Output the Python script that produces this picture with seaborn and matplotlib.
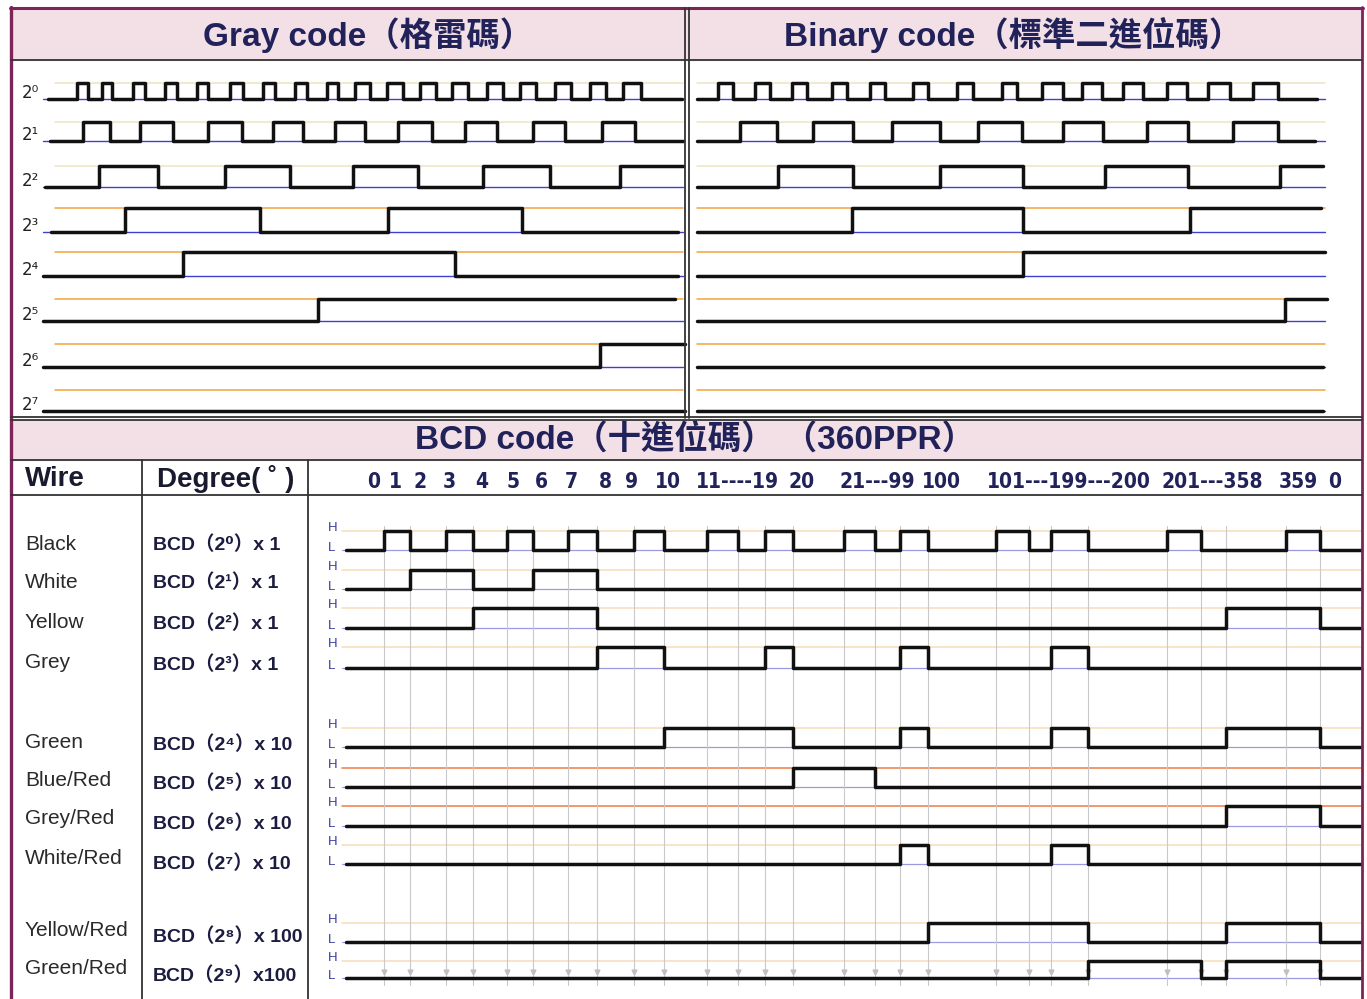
import matplotlib.pyplot as plt
from matplotlib import font_manager
from matplotlib.font_manager import FontProperties
from matplotlib.patches import Rectangle
import pandas as pd
import seaborn as sns

sns.set_theme(style="white")
plt.rcParams["font.family"] = ["Liberation Sans", "Noto Sans CJK TC", "DejaVu Sans"]

# ---------------- data ----------------
# top panels: bit names, x positions of the edges (rise, fall, rise, ...)
bit_names = ["2⁰", "2¹", "2²", "2³", "2⁴", "2⁵", "2⁶", "2⁷"]

gray_start = [48, 50, 45, 51, 43, 43, 43, 43]
gray_end = [682, 683, 683, 678, 678, 675, 685, 685]
gray_edges = [
    [77, 88, 102, 112, 133, 145, 165, 177, 197, 208, 230, 243, 263, 275, 295, 307,
     327, 338, 355, 370, 387, 403, 420, 436, 452, 468, 487, 503, 520, 536, 555, 571,
     590, 606, 623, 641],
    [83, 110, 140, 173, 208, 242, 273, 303, 335, 365, 398, 432, 465, 497, 533, 565,
     602, 635],
    [99, 158, 225, 290, 353, 418, 483, 550, 620],
    [125, 260, 388, 522],
    [183, 455],
    [318],
    [600],
    [],
]

binary_start = [697, 697, 697, 697, 697, 697, 697, 697]
binary_end = [1317, 1315, 1323, 1321, 1325, 1327, 1323, 1323]
binary_edges = [
    [718, 733, 755, 770, 792, 807, 832, 847, 870, 885, 913, 928, 957, 973, 1002, 1017,
     1042, 1063, 1082, 1102, 1123, 1143, 1167, 1187, 1208, 1230, 1253, 1278],
    [740, 777, 813, 853, 892, 940, 978, 1022, 1063, 1103, 1147, 1188, 1233, 1278],
    [778, 853, 940, 1023, 1105, 1188, 1280],
    [852, 1023, 1190],
    [1023],
    [1285],
    [],
    [],
]

# BCD panel: step boundaries and the level of every wire in each step
bcd_bounds = [346, 384, 410, 446, 473, 507, 533, 568, 597, 634, 664, 707, 738, 765,
              793, 844, 875, 900, 928, 996, 1029, 1051, 1088, 1167, 1201, 1226, 1286,
              1320, 1361]
bcd_ticks = ["0", "1", "2", "3", "4", "5", "6", "7", "8", "9", "10", "11----19", "20",
             "21---99", "100", "101---199---200", "201---358", "359", "0"]
bcd_tick_x = [374, 395, 420, 449, 482, 513, 541, 571, 605, 632, 668, 738, 802, 877,
              941, 1069, 1212, 1298, 1335]

wires = ["Black", "White", "Yellow", "Grey", "Green", "Blue/Red", "Grey/Red",
         "White/Red", "Yellow/Red", "Green/Red"]
degrees = ["BCD（2⁰）x 1", "BCD（2¹）x 1", "BCD（2²）x 1", "BCD（2³）x 1",
           "BCD（2⁴）x 10", "BCD（2⁵）x 10", "BCD（2⁶）x 10", "BCD（2⁷）x 10",
           "BCD（2⁸）x 100", "BCD（2⁹）x100"]
bcd_states = [
    [0, 1, 0, 1, 0, 1, 0, 1, 0, 1, 0, 1, 0, 1, 0, 1, 0, 1, 0, 1, 0, 1, 0, 1, 0, 0, 1, 0],
    [0, 0, 1, 1, 0, 0, 1, 1, 0, 0, 0, 0, 0, 0, 0, 0, 0, 0, 0, 0, 0, 0, 0, 0, 0, 0, 0, 0],
    [0, 0, 0, 0, 1, 1, 1, 1, 0, 0, 0, 0, 0, 0, 0, 0, 0, 0, 0, 0, 0, 0, 0, 0, 0, 1, 1, 0],
    [0, 0, 0, 0, 0, 0, 0, 0, 1, 1, 0, 0, 0, 1, 0, 0, 0, 1, 0, 0, 0, 1, 0, 0, 0, 0, 0, 0],
    [0, 0, 0, 0, 0, 0, 0, 0, 0, 0, 1, 1, 1, 1, 0, 0, 0, 1, 0, 0, 0, 1, 0, 0, 0, 1, 1, 0],
    [0, 0, 0, 0, 0, 0, 0, 0, 0, 0, 0, 0, 0, 0, 1, 1, 0, 0, 0, 0, 0, 0, 0, 0, 0, 0, 0, 0],
    [0, 0, 0, 0, 0, 0, 0, 0, 0, 0, 0, 0, 0, 0, 0, 0, 0, 0, 0, 0, 0, 0, 0, 0, 0, 1, 1, 0],
    [0, 0, 0, 0, 0, 0, 0, 0, 0, 0, 0, 0, 0, 0, 0, 0, 0, 1, 0, 0, 0, 1, 0, 0, 0, 0, 0, 0],
    [0, 0, 0, 0, 0, 0, 0, 0, 0, 0, 0, 0, 0, 0, 0, 0, 0, 0, 1, 1, 1, 1, 0, 0, 0, 1, 1, 0],
    [0, 0, 0, 0, 0, 0, 0, 0, 0, 0, 0, 0, 0, 0, 0, 0, 0, 0, 0, 0, 0, 0, 1, 1, 0, 1, 1, 0],
]

# ---------------- layout ----------------
W, H = 1367, 999
top_high = [83, 122, 166, 208, 252, 299, 344, 390]
top_low = [99, 141, 187, 232, 276, 321, 367, 411]
bcd_high = [531, 570, 608, 647, 728, 768, 806, 845, 923, 961]
bcd_low = [550, 589, 628, 668, 747, 787, 826, 864, 942, 978]
wire_y = [545, 582, 622, 663, 742, 780, 819, 858, 930, 968]
degree_y = [545, 583, 624, 665, 745, 784, 824, 864, 937, 976]

NAVY = "#22225a"
FRAME = "#7d2458"
PINK = "#f3dfe6"
WAVE = "#111111"


def narrow_bold_font():
    # the degree ticks use a condensed bold face; pick one if installed
    weights = {"bold": 700, "heavy": 800, "black": 900, "extra bold": 800, "demibold": 600}
    found = []
    for f in font_manager.fontManager.ttflist:
        w = f.weight if isinstance(f.weight, int) else weights.get(str(f.weight).lower(), 400)
        st = f.stretch
        narrow = ("Narrow" in f.name or "Condensed" in f.name or "Condensed" in f.fname
                  or st in ("condensed", "semi-condensed", "extra-condensed")
                  or (isinstance(st, int) and st < 500))
        if narrow and w >= 600 and f.style == "normal":
            found.append(f)
    found.sort(key=lambda f: (0 if "Liberation" in f.name else 1, f.fname))
    return found[0].fname if found else None


def wave_points(start, end, edges, low, high):
    xs, ys = [start], [low]
    level = low
    for e in edges:
        nxt = high if level == low else low
        xs += [e, e]
        ys += [level, nxt]
        level = nxt
    xs.append(end)
    ys.append(level)
    return xs, ys


rows = []
for i in range(8):
    for name, start, end, edges in (("g", gray_start, gray_end, gray_edges),
                                    ("b", binary_start, binary_end, binary_edges)):
        xs, ys = wave_points(start[i], end[i], edges[i], top_low[i], top_high[i])
        rows += [{"wave": f"{name}{i}", "x": x, "y": y} for x, y in zip(xs, ys)]

for i, states in enumerate(bcd_states):
    edges = [bcd_bounds[k] for k in range(1, len(states)) if states[k] != states[k - 1]]
    xs, ys = wave_points(bcd_bounds[0], bcd_bounds[-1], edges, bcd_low[i], bcd_high[i])
    rows += [{"wave": f"bcd{i}", "x": x, "y": y} for x, y in zip(xs, ys)]

waves = pd.DataFrame(rows)

fig = plt.figure(figsize=(W / 100, H / 100), dpi=100)
ax = fig.add_axes([0, 0, 1, 1])

# header bands
ax.add_patch(Rectangle((11, 8), 1351, 52, color=PINK, zorder=0))
ax.add_patch(Rectangle((11, 420), 1351, 40, color=PINK, zorder=0))

# guide lines (high = orange/beige, low = blue)
for i in range(8):
    hc = "#efe3c4" if i < 3 else "#f2a23c"
    ax.plot([55, 683], [top_high[i]] * 2, color=hc, lw=1.1, zorder=1)
    ax.plot([43, 683], [top_low[i]] * 2, color="#4040d0", lw=1.0, zorder=1)
    ax.plot([697, 1325], [top_high[i]] * 2, color=hc, lw=1.1, zorder=1)
    ax.plot([697, 1325], [top_low[i]] * 2, color="#4040d0", lw=1.0, zorder=1)
    ax.text(22, top_low[i] - 6, bit_names[i], fontsize=12, color="#222222",
            ha="left", va="center", family=["DejaVu Sans"])

for i in range(len(wires)):
    hc = "#f07a45" if wires[i] in ("Blue/Red", "Grey/Red") else "#f6dcb8"
    ax.plot([342, 1361], [bcd_high[i]] * 2, color=hc, lw=1.1, zorder=1)
    ax.plot([342, 1361], [bcd_low[i]] * 2, color="#9a9ae0", lw=0.9, zorder=1)
    ax.text(328, bcd_high[i] - 3, "H", fontsize=9.5, color="#3a3aa0", ha="left", va="center")
    ax.text(328, bcd_low[i] - 2, "L", fontsize=9.5, color="#3a3aa0", ha="left", va="center")
    ax.text(25, wire_y[i], wires[i], fontsize=15, color="#2a2a2a", ha="left", va="center")
    ax.text(153, degree_y[i], degrees[i], fontsize=14, fontweight="bold", color="#1c1c40",
            ha="left", va="center")

# vertical step grid with little arrow heads
for x in bcd_bounds[1:-1]:
    ax.plot([x, x], [526, 985], color="#c9c9c9", lw=0.8, zorder=1)
    ax.plot(x, 972, marker="v", ms=3.5, color="#c0c0c0", zorder=1)

# the waveforms
sns.lineplot(data=waves, x="x", y="y", units="wave", estimator=None, sort=False,
             color=WAVE, linewidth=2.5, ax=ax, legend=False, zorder=3)


# frame lines
def hline(y, x0, x1, c="#333333", lw=1.3):
    ax.plot([x0, x1], [y, y], color=c, lw=lw, zorder=4)


def vline(x, y0, y1, c="#333333", lw=1.3):
    ax.plot([x, x], [y0, y1], color=c, lw=lw, zorder=4)


hline(8, 10, 1363, FRAME, 2.2)
vline(11, 7, 999, FRAME, 2.4)
vline(1362, 7, 999, FRAME, 2.0)
hline(60, 11, 1362)
vline(685, 8, 418)
vline(689, 8, 418)
hline(417, 11, 1362)
hline(420, 11, 1362)
hline(460, 11, 1362)
hline(495, 11, 1362)
vline(142, 460, 999)
vline(308, 460, 999)

# titles and headers
title_font = ["Liberation Sans", "Noto Sans CJK TC", "DejaVu Sans"]
ax.text(368, 35, "Gray code（格雷碼）", fontsize=24, fontweight="bold", color=NAVY,
        ha="center", va="center", family=title_font)
ax.text(1013, 35, "Binary code（標準二進位碼）", fontsize=24, fontweight="bold", color=NAVY,
        ha="center", va="center", family=title_font)
ax.text(695, 441, "BCD code（十進位碼） （360PPR）", fontsize=24, fontweight="bold",
        color=NAVY, ha="center", va="center", family=title_font)
ax.text(25, 479, "Wire", fontsize=20, fontweight="bold", color="#1a1a2e",
        ha="left", va="center")
ax.text(157, 479, "Degree( ˚ )", fontsize=20, fontweight="bold", color="#1a1a2e",
        ha="left", va="center")

narrow = narrow_bold_font()
if narrow:
    tick_font = FontProperties(fname=narrow, size=15)
else:
    tick_font = FontProperties(family="DejaVu Sans", weight="bold", size=12.5)
for lab, x in zip(bcd_ticks, bcd_tick_x):
    ax.text(x, 482, lab, fontproperties=tick_font, color=NAVY, ha="center", va="center")

ax.set_xlim(0, W)
ax.set_ylim(H, 0)
ax.set_axis_off()
fig.savefig("out.png", dpi=100, facecolor="white")
